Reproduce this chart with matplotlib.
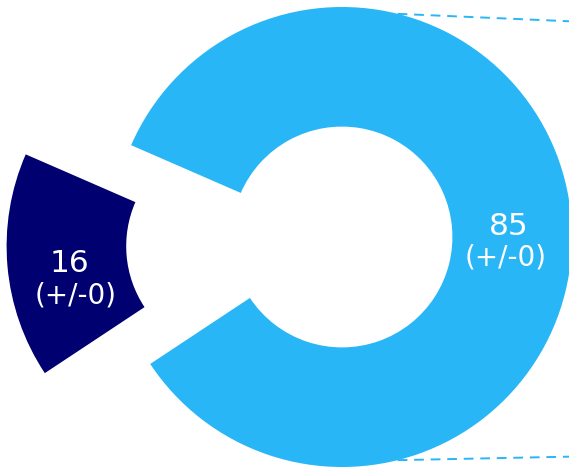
import numpy as np
import matplotlib
matplotlib.use("Agg")
import matplotlib.pyplot as plt

# Data
values = [85, 16]
value_labels = ["85", "16"]
change_labels = ["(+/-0)", "(+/-0)"]
colors = ["#29B6F6", "#000070"]

W, H, DPI = 569, 467, 100
fig = plt.figure(figsize=(W / DPI, H / DPI), dpi=DPI)
ax = fig.add_axes([0, 0, 1, 1])

scale = 230.0  # pixels per unit radius
cx, cy = 342.0, 237.0

wedges, _ = ax.pie(values, startangle=213.5, counterclock=True,
                   explode=[0, 0.46], radius=1.0, colors=colors,
                   wedgeprops=dict(width=0.52, linewidth=0))
ax.set_xlim(-cx / scale, (W - cx) / scale)
ax.set_ylim(-(H - cy) / scale, cy / scale)
ax.set_aspect("equal")
ax.axis("off")

# labels
font = "DejaVu Sans"
ax.text(0.725, 0.009, value_labels[0], color="white", fontsize=22.5,
        ha="center", va="baseline", family=font)
ax.text(0.712, -0.122, change_labels[0], color="white", fontsize=20,
        ha="center", va="baseline", family=font)
ax.text(-1.183, -0.1535, value_labels[1], color="white", fontsize=22.5,
        ha="center", va="baseline", family=font)
ax.text(-1.157, -0.291, change_labels[1], color="white", fontsize=20,
        ha="center", va="baseline", family=font)

# connector dashed lines (bar-of-pie style)
for ang, ty in [(76.0, 0.938), (-76.0, -0.955)]:
    a = np.deg2rad(ang)
    x0, y0 = np.cos(a), np.sin(a)
    ax.plot([x0, 1.1], [y0, ty + (1.1 - 0.987) * (ty - y0) / (0.987 - x0)],
            color=colors[0], lw=1.4, dashes=(5, 3.5), solid_capstyle="butt",
            clip_on=True)

fig.savefig("out.png", dpi=DPI)
